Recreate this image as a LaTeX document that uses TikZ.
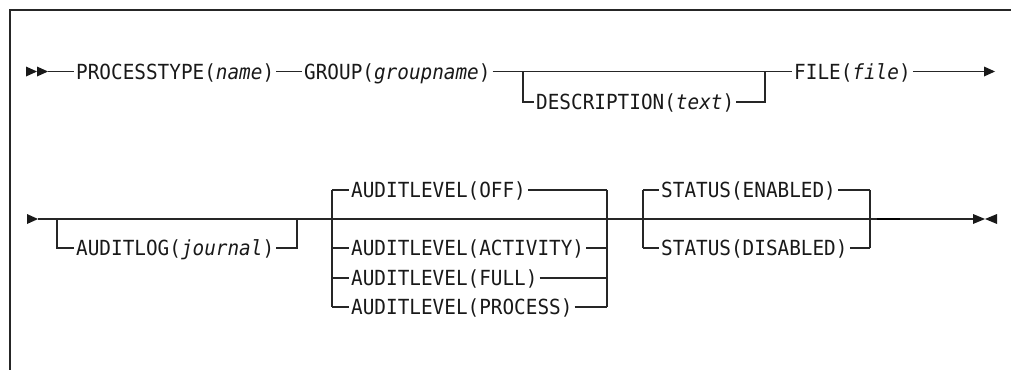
\documentclass[tikz,border=0pt]{standalone}
\usepackage{fontspec}
\newfontfamily\lbfont[FakeStretch=0.93]{DejaVu Sans Mono}
\begin{document}
\begin{tikzpicture}[x=1pt,y=-1pt,
  ln/.style={line width=1.3pt, draw=black!85},
  frame/.style={line width=2pt, draw=black!85},
  tip/.style={fill=black!90, draw=none},
  lbl/.style={font=\lbfont\fontsize{20.8pt}{24pt}\selectfont, text=black!90, inner xsep=2pt, inner ysep=0pt, text height=15.2pt, text depth=0pt, anchor=west}]
\useasboundingbox (0,0) rectangle (1011,370);
% frame
\draw[frame] (1011,9.5) -- (9.5,9.5) -- (9.5,370);
% ---------- row 1 ----------
\coordinate (s1) at (48,71.5);
\fill[tip] (26,66.5) -- (37,71.5) -- (26,76.5) -- cycle;
\fill[tip] (37,66.5) -- (48,71.5) -- (37,76.5) -- cycle;
\node[lbl] (pt) at (74,71.5) {PROCESSTYPE(\textit{name})};
\node[lbl] (grp) at (302,71.5) {GROUP(\textit{groupname})};
\coordinate (j1) at (523,71.5);
\coordinate (j2) at (765,71.5);
\node[lbl] (desc) at (534,102) {DESCRIPTION(\textit{text})};
\node[lbl] (file) at (792,71.5) {FILE(\textit{file})};
\coordinate (e1) at (984,71.5);
\draw[ln] (s1) -- (pt.west);
\draw[ln] (pt.east) -- (grp.west);
\draw[ln] (grp.east) -- (j1) -- (j2) -- (file.west);
\draw[ln] (j1) |- (desc.west);
\draw[ln] (desc.east) -| (j2);
\draw[ln] (file.east) -- (e1);
\fill[tip] (984,66.5) -- (995,71.5) -- (984,76.5) -- cycle;
% ---------- row 2 ----------
\fill[tip] (27,214) -- (38,219) -- (27,224) -- cycle;
\coordinate (s2) at (38,219);
\coordinate (a1) at (57,219);
\coordinate (a2) at (297,219);
\node[lbl] (alog) at (74,248) {AUDITLOG(\textit{journal})};
\coordinate (b1) at (332,219);
\coordinate (b2) at (607,219);
\coordinate (b1t) at (332,190);
\coordinate (b2t) at (607,190);
\node[lbl] (off) at (349,190) {AUDITLEVEL(OFF)};
\node[lbl] (act) at (349,248) {AUDITLEVEL(ACTIVITY)};
\node[lbl] (full) at (349,278) {AUDITLEVEL(FULL)};
\node[lbl] (proc) at (349,307) {AUDITLEVEL(PROCESS)};
\coordinate (c1) at (643,219);
\coordinate (c2) at (870,219);
\coordinate (c1t) at (643,190);
\coordinate (c2t) at (870,190);
\node[lbl] (en) at (659,190) {STATUS(ENABLED)};
\node[lbl] (dis) at (659,248) {STATUS(DISABLED)};
\coordinate (e2) at (973,219);
% main line
\draw[ln] (s2) -- (a1) -- (a2) -- (b1) -- (b2) -- (c1) -- (c2) -- (e2);
% auditlog
\draw[ln] (a1) |- (alog.west);
\draw[ln] (alog.east) -| (a2);
% auditlevel
\draw[ln] (b1t) -- (b1 |- proc.west);
\draw[ln] (b2t) -- (b2 |- proc.west);
\draw[ln] (b1t) -- (off.west);  \draw[ln] (off.east) -- (b2t);
\draw[ln] (b1 |- act.west) -- (act.west);  \draw[ln] (act.east) -- (b2 |- act.west);
\draw[ln] (b1 |- full.west) -- (full.west);  \draw[ln] (full.east) -- (b2 |- full.west);
\draw[ln] (b1 |- proc.west) -- (proc.west);  \draw[ln] (proc.east) -- (b2 |- proc.west);
% status
\draw[ln] (c1t) -- (c1 |- dis.west);
\draw[ln] (c2t) -- (c2 |- dis.west);
\draw[ln] (c1t) -- (en.west);  \draw[ln] (en.east) -- (c2t);
\draw[ln] (c1 |- dis.west) -- (dis.west);  \draw[ln] (dis.east) -- (c2 |- dis.west);
\draw[line width=2.6pt, draw=black] (877,219) -- (900,219);
% end marker
\fill[tip] (973,214) -- (985,219) -- (973,224) -- cycle;
\fill[tip] (997,214) -- (985,219) -- (997,224) -- cycle;
\end{tikzpicture}
\end{document}
